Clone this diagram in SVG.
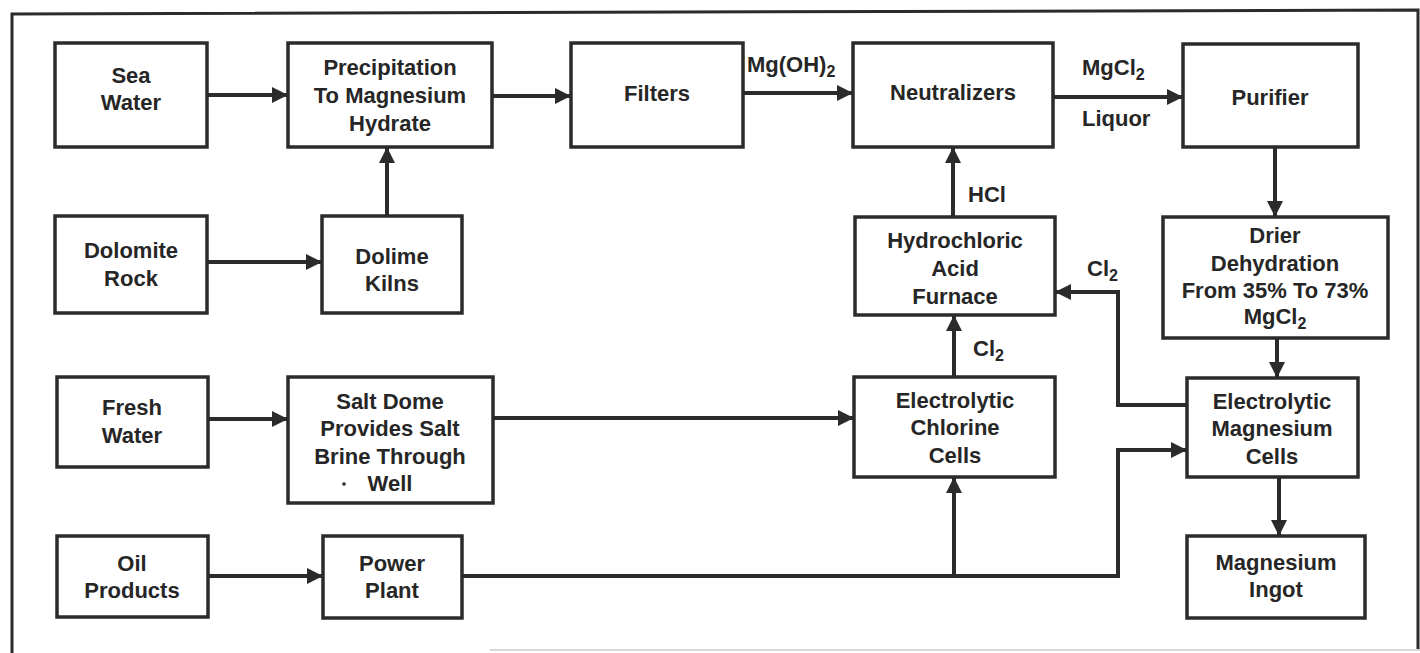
<svg xmlns="http://www.w3.org/2000/svg" width="1420" height="653" viewBox="0 0 1420 653">
<defs>
<style>
.box{fill:none;stroke:#2b2b2b;stroke-width:3.5}
.t{font-family:"Liberation Sans",Arial,sans-serif;font-weight:bold;font-size:22px;fill:#262626;text-anchor:middle}
.lb{font-family:"Liberation Sans",Arial,sans-serif;font-weight:bold;font-size:22px;fill:#262626}
.sub{font-size:16px}
.c{fill:none;stroke:#2b2b2b;stroke-width:4;stroke-linejoin:miter}
</style>
<marker id="ah" markerUnits="userSpaceOnUse" markerWidth="17" markerHeight="16" refX="16" refY="8" orient="auto">
<path d="M0,0 L16,8 L0,16 z" fill="#2b2b2b"/>
</marker>
</defs>
<rect x="0" y="0" width="1420" height="653" fill="#fff"/>
<g id="frame">
<path d="M12,653 L12,14 L1418,10 L1418,649" fill="none" stroke="#2b2b2b" stroke-width="3"/>
<line x1="490" y1="650" x2="1420" y2="650" stroke="#d8d8d8" stroke-width="2"/>
</g>
<g id="connectors">
<line class="c" x1="207" y1="95" x2="288" y2="95" marker-end="url(#ah)"/>
<line class="c" x1="492" y1="96" x2="571" y2="96" marker-end="url(#ah)"/>
<line class="c" x1="743" y1="93" x2="853" y2="93" marker-end="url(#ah)"/>
<line class="c" x1="1053" y1="97" x2="1183" y2="97" marker-end="url(#ah)"/>
<line class="c" x1="1275" y1="147" x2="1275" y2="217" marker-end="url(#ah)"/>
<line class="c" x1="207" y1="262" x2="322" y2="262" marker-end="url(#ah)"/>
<line class="c" x1="387" y1="216" x2="387" y2="147" marker-end="url(#ah)"/>
<line class="c" x1="953" y1="217" x2="953" y2="147" marker-end="url(#ah)"/>
<line class="c" x1="954" y1="377" x2="954" y2="315" marker-end="url(#ah)"/>
<path class="c" d="M1187,405 H1118 V292 H1055" marker-end="url(#ah)"/>
<line class="c" x1="1277" y1="338" x2="1277" y2="378" marker-end="url(#ah)"/>
<line class="c" x1="1279" y1="477" x2="1279" y2="536" marker-end="url(#ah)"/>
<line class="c" x1="208" y1="419" x2="288" y2="419" marker-end="url(#ah)"/>
<line class="c" x1="493" y1="418" x2="854" y2="418" marker-end="url(#ah)"/>
<line class="c" x1="208" y1="576" x2="323" y2="576" marker-end="url(#ah)"/>
<path class="c" d="M462,576 H1118 V450 H1187" marker-end="url(#ah)"/>
<line class="c" x1="954" y1="576" x2="954" y2="477" marker-end="url(#ah)"/>
</g>
<g id="labels">
<text class="lb" x="747" y="72">Mg(OH)<tspan class="sub" dy="5">2</tspan></text>
<text class="lb" x="1082" y="75">MgCl<tspan class="sub" dy="5">2</tspan></text>
<text class="lb" x="1082" y="126">Liquor</text>
<text class="lb" x="968" y="202">HCl</text>
<text class="lb" x="1087" y="276">Cl<tspan class="sub" dy="5">2</tspan></text>
<text class="lb" x="973" y="356">Cl<tspan class="sub" dy="5">2</tspan></text>
</g>
<g id="sea-water">
<rect class="box" x="55" y="43" width="152" height="104"/>
<text class="t" x="131" y="83">Sea</text>
<text class="t" x="131" y="110">Water</text>
</g>
<g id="precipitation">
<rect class="box" x="288" y="43" width="204" height="104"/>
<text class="t" x="390" y="75">Precipitation</text>
<text class="t" x="390" y="103">To Magnesium</text>
<text class="t" x="390" y="131">Hydrate</text>
</g>
<g id="filters">
<rect class="box" x="571" y="43" width="172" height="104"/>
<text class="t" x="657" y="101">Filters</text>
</g>
<g id="neutralizers">
<rect class="box" x="853" y="43" width="200" height="104"/>
<text class="t" x="953" y="100">Neutralizers</text>
</g>
<g id="purifier">
<rect class="box" x="1183" y="44" width="175" height="103"/>
<text class="t" x="1270" y="105">Purifier</text>
</g>
<g id="dolomite-rock">
<rect class="box" x="55" y="216" width="152" height="97"/>
<text class="t" x="131" y="258">Dolomite</text>
<text class="t" x="131" y="286">Rock</text>
</g>
<g id="dolime-kilns">
<rect class="box" x="322" y="216" width="140" height="97"/>
<text class="t" x="392" y="264">Dolime</text>
<text class="t" x="392" y="291">Kilns</text>
</g>
<g id="hydrochloric">
<rect class="box" x="855" y="217" width="200" height="98"/>
<text class="t" x="955" y="248">Hydrochloric</text>
<text class="t" x="955" y="276">Acid</text>
<text class="t" x="955" y="304">Furnace</text>
</g>
<g id="drier">
<rect class="box" x="1163" y="217" width="225" height="121"/>
<text class="t" x="1275" y="243">Drier</text>
<text class="t" x="1275" y="271">Dehydration</text>
<text class="t" x="1275" y="298">From 35% To 73%</text>
<text class="t" x="1275" y="324">MgCl<tspan class="sub" dy="5">2</tspan></text>
</g>
<g id="fresh-water">
<rect class="box" x="57" y="377" width="151" height="90"/>
<text class="t" x="132" y="415">Fresh</text>
<text class="t" x="132" y="443">Water</text>
</g>
<g id="salt-dome">
<rect class="box" x="288" y="377" width="205" height="126"/>
<text class="t" x="390" y="409">Salt Dome</text>
<text class="t" x="390" y="436">Provides Salt</text>
<text class="t" x="390" y="464">Brine Through</text>
<text class="t" x="390" y="491">Well</text>
<circle cx="344" cy="484" r="1.8" fill="#262626"/>
</g>
<g id="chlorine-cells">
<rect class="box" x="854" y="377" width="201" height="100"/>
<text class="t" x="955" y="408">Electrolytic</text>
<text class="t" x="955" y="435">Chlorine</text>
<text class="t" x="955" y="463">Cells</text>
</g>
<g id="magnesium-cells">
<rect class="box" x="1187" y="378" width="171" height="99"/>
<text class="t" x="1272" y="409">Electrolytic</text>
<text class="t" x="1272" y="436">Magnesium</text>
<text class="t" x="1272" y="464">Cells</text>
</g>
<g id="oil-products">
<rect class="box" x="57" y="536" width="151" height="81"/>
<text class="t" x="132" y="571">Oil</text>
<text class="t" x="132" y="598">Products</text>
</g>
<g id="power-plant">
<rect class="box" x="323" y="536" width="139" height="82"/>
<text class="t" x="392" y="571">Power</text>
<text class="t" x="392" y="598">Plant</text>
</g>
<g id="magnesium-ingot">
<rect class="box" x="1187" y="536" width="178" height="82"/>
<text class="t" x="1276" y="570">Magnesium</text>
<text class="t" x="1276" y="597">Ingot</text>
</g>
</svg>
